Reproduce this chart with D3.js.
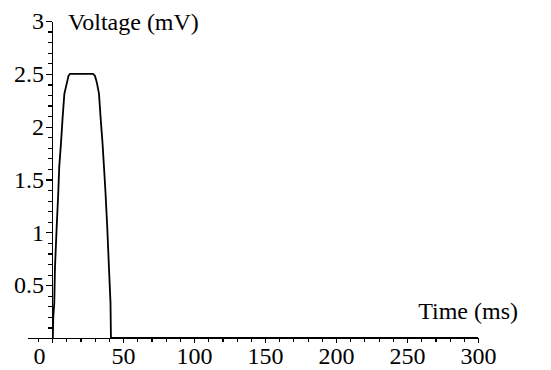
<!DOCTYPE html>
<html>
<head>
<meta charset="utf-8">
<script src="https://cdn.jsdelivr.net/npm/d3@7"></script>
<style>
  body { margin: 0; background: #fff; }
</style>
</head>
<body>
<div id="chart"></div>
<script>
// pulse samples
var timeMs = [0.6, 0.9, 1.6, 2.1, 3.3, 4.4, 5.1, 6.3, 7.5, 8.7, 10.4, 11.6, 12.7, 28.9, 30.3, 31.7, 33.1, 34.2, 35.6, 36.6, 37.7, 38.9, 40.1, 41.2, 41.5, 300];
var voltage = [0, 0.2, 0.33, 0.67, 1.05, 1.37, 1.62, 1.84, 2.09, 2.31, 2.41, 2.48, 2.5, 2.5, 2.48, 2.41, 2.31, 2.09, 1.84, 1.62, 1.37, 1.05, 0.67, 0.33, 0, 0];

var xTicks = [0, 50, 100, 150, 200, 250, 300];
var yTicks = [0.5, 1, 1.5, 2, 2.5, 3];
var xMinor = d3.range(-10, 301, 10);
var yMinor = d3.range(1, 31).map(d => d / 10);

var svgWidth = 551;
var svgHeight = 370;
var serif = "'Liberation Serif', 'Times New Roman', Times, serif";

var svg = d3.select("#chart")
  .append("svg")
  .attr("width", svgWidth)
  .attr("height", svgHeight);

// scales
var xScale = d3.scaleLinear()
  .domain([-17, 300])
  .range([52 - 17 * 1.42, 478]);

var yScale = d3.scaleLinear()
  .domain([0, 3])
  .range([338, 21]);

// minor ticks
svg.append("g")
  .attr("transform", `translate(0, ${yScale(0)})`)
  .call(d3.axisBottom(xScale).tickValues(xMinor).tickSize(4).tickSizeOuter(0).tickFormat(""));

svg.append("g")
  .attr("transform", `translate(${xScale(0)}, 0)`)
  .call(d3.axisLeft(yScale).tickValues(yMinor).tickSize(4).tickSizeOuter(0).tickFormat(""));

// major ticks with labels
var xAxis = svg.append("g")
  .attr("transform", `translate(0, ${yScale(0)})`)
  .call(d3.axisBottom(xScale).tickValues(xTicks).tickSize(5).tickPadding(4).tickSizeOuter(0));

var yAxis = svg.append("g")
  .attr("transform", `translate(${xScale(0)}, 0)`)
  .call(d3.axisLeft(yScale).tickValues(yTicks).tickSize(6).tickPadding(2).tickSizeOuter(0).tickFormat(d3.format("")));

svg.selectAll("g")
  .attr("font-family", serif)
  .attr("font-size", 24);

svg.selectAll(".domain, .tick line")
  .attr("stroke", "#000")
  .attr("stroke-width", 1.2)
  .attr("shape-rendering", "crispEdges");

svg.selectAll(".tick text")
  .style("font-family", serif)
  .style("font-size", "24px")
  .attr("fill", "#000");

// origin label sits left of the y axis
xAxis.selectAll(".tick text")
  .filter(d => d === 0)
  .attr("x", -13);

// pulse
var line = d3.line()
  .x((d, i) => xScale(timeMs[i]))
  .y(d => yScale(d));

svg.append("path")
  .datum(voltage)
  .attr("d", line)
  .attr("fill", "none")
  .attr("stroke", "#000")
  .attr("stroke-width", 1.8);

// axis titles
svg.append("text")
  .attr("x", 68)
  .attr("y", 30)
  .style("font-family", serif)
  .style("font-size", "24px")
  .text("Voltage (mV)");

svg.append("text")
  .attr("x", 518)
  .attr("y", 319)
  .attr("text-anchor", "end")
  .style("font-family", serif)
  .style("font-size", "24px")
  .text("Time (ms)");
</script>
</body>
</html>
